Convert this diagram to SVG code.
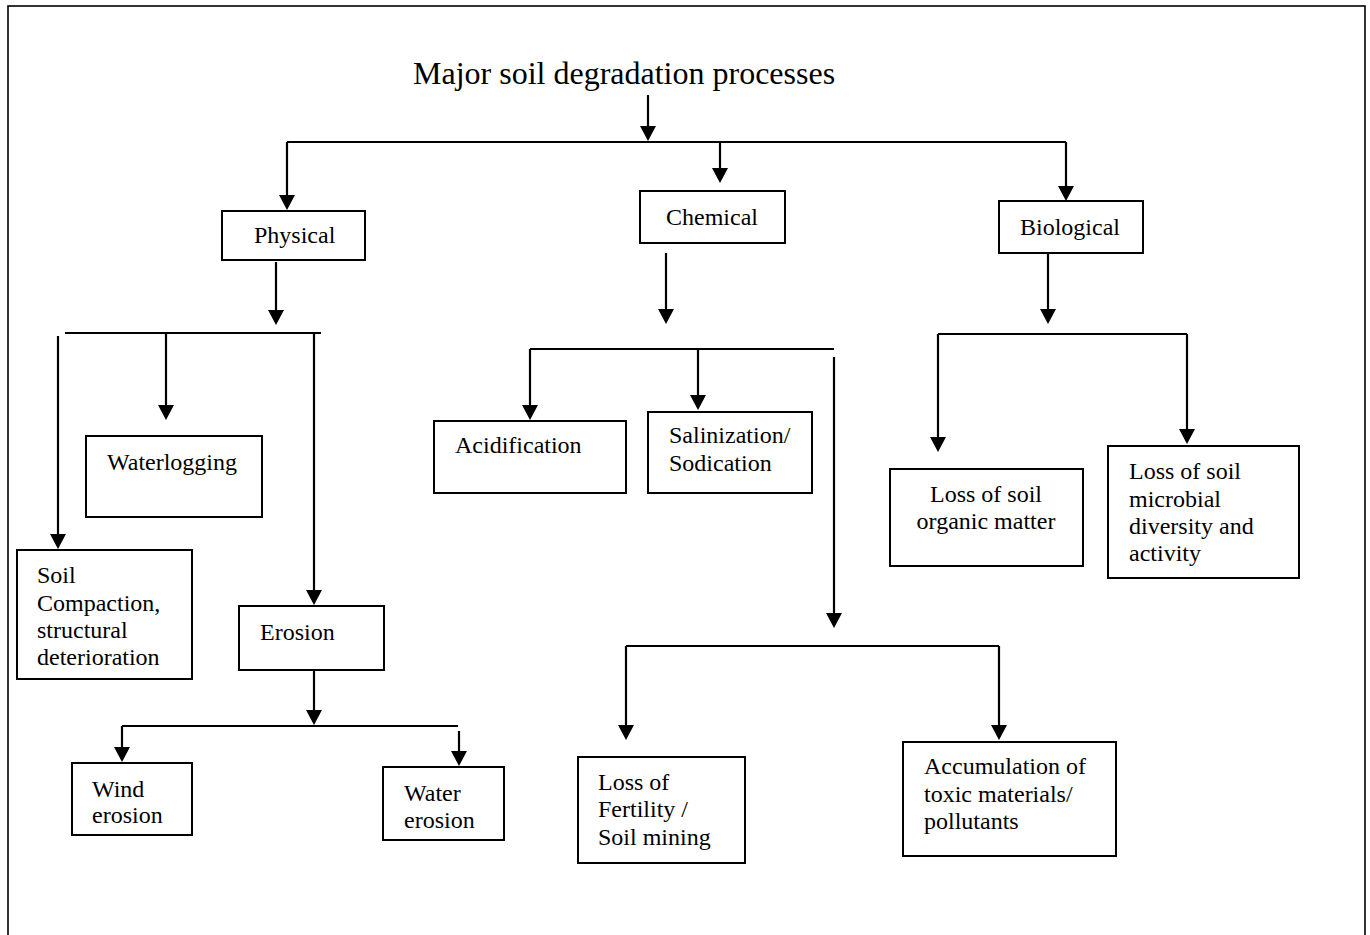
<svg xmlns="http://www.w3.org/2000/svg" width="1370" height="935" viewBox="0 0 1370 935">
<style>
.box{fill:#fff;stroke:#000;stroke-width:2}
.t{font-family:"Liberation Serif","Times New Roman",serif;font-size:24px;fill:#000}
.title{font-family:"Liberation Serif","Times New Roman",serif;font-size:32px;fill:#000}
.ln{fill:none;stroke:#000;stroke-width:2.2}
.ar{fill:none;stroke:#000;stroke-width:2.2;marker-end:url(#ah)}
</style>
<defs>
<marker id="ah" viewBox="0 0 15 16" markerWidth="15" markerHeight="16" markerUnits="userSpaceOnUse" refX="9" refY="8" orient="auto">
<path d="M0,0 L15,8 L0,16 z" fill="#000"/>
</marker>
</defs>
<rect width="1370" height="935" fill="#fff"/>
<rect x="8" y="6" width="1357" height="1000" fill="none" stroke="#000" stroke-width="1.6"/>
<g id="title"><text class="title" x="413" y="84">Major soil degradation processes</text></g>
<g id="connectors">
<path class="ar" d="M648,95 V135"/>
<path class="ln" d="M287,142 H1066"/>
<path class="ar" d="M287,142 V204"/>
<path class="ar" d="M720,142 V177"/>
<path class="ar" d="M1066,142 V195"/>
<path class="ar" d="M276,262 V319"/>
<path class="ln" d="M65,333 H321"/>
<path class="ar" d="M58,336 V543"/>
<path class="ar" d="M166,333 V414"/>
<path class="ar" d="M314,333 V599"/>
<path class="ar" d="M314,663 V719"/>
<path class="ln" d="M122,726 H458"/>
<path class="ar" d="M122,726 V756"/>
<path class="ar" d="M459,731 V760"/>
<path class="ar" d="M666,253 V318"/>
<path class="ln" d="M530,349 H834"/>
<path class="ar" d="M530,349 V414"/>
<path class="ar" d="M698,349 V404"/>
<path class="ar" d="M834,357 V622"/>
<path class="ln" d="M626,646 H999"/>
<path class="ar" d="M626,646 V734"/>
<path class="ar" d="M999,646 V734"/>
<path class="ar" d="M1048,253 V318"/>
<path class="ln" d="M938,334 H1187"/>
<path class="ar" d="M938,334 V446"/>
<path class="ar" d="M1187,334 V438"/>
</g>
<g id="physical"><rect class="box" x="222" y="211" width="143" height="49"/><text class="t" x="254" y="243">Physical</text></g>
<g id="chemical"><rect class="box" x="640" y="191" width="145" height="52"/><text class="t" x="666" y="225">Chemical</text></g>
<g id="biological"><rect class="box" x="999" y="201" width="144" height="52"/><text class="t" x="1020" y="235">Biological</text></g>
<g id="waterlogging"><rect class="box" x="86" y="436" width="176" height="81"/><text class="t" x="107" y="470">Waterlogging</text></g>
<g id="compaction"><rect class="box" x="17" y="550" width="175" height="129"/><text class="t"><tspan x="37" y="583">Soil</tspan><tspan x="37" y="611">Compaction,</tspan><tspan x="37" y="638">structural</tspan><tspan x="37" y="665">deterioration</tspan></text></g>
<g id="erosion"><rect class="box" x="239" y="606" width="145" height="64"/><text class="t" x="260" y="640">Erosion</text></g>
<g id="wind"><rect class="box" x="72" y="763" width="120" height="72"/><text class="t"><tspan x="92" y="797">Wind</tspan><tspan x="92" y="823">erosion</tspan></text></g>
<g id="water"><rect class="box" x="383" y="767" width="121" height="73"/><text class="t"><tspan x="404" y="801">Water</tspan><tspan x="404" y="828">erosion</tspan></text></g>
<g id="acidification"><rect class="box" x="434" y="421" width="192" height="72"/><text class="t" x="455" y="453">Acidification</text></g>
<g id="salinization"><rect class="box" x="648" y="412" width="164" height="81"/><text class="t"><tspan x="669" y="443">Salinization/</tspan><tspan x="669" y="471">Sodication</tspan></text></g>
<g id="fertility"><rect class="box" x="578" y="757" width="167" height="106"/><text class="t"><tspan x="598" y="790">Loss of</tspan><tspan x="598" y="817">Fertility /</tspan><tspan x="598" y="845">Soil mining</tspan></text></g>
<g id="toxic"><rect class="box" x="903" y="742" width="213" height="114"/><text class="t"><tspan x="924" y="774">Accumulation of</tspan><tspan x="924" y="802">toxic materials/</tspan><tspan x="924" y="829">pollutants</tspan></text></g>
<g id="organic"><rect class="box" x="890" y="469" width="193" height="97"/><text class="t" text-anchor="middle"><tspan x="986" y="502">Loss of soil</tspan><tspan x="986" y="529">organic matter</tspan></text></g>
<g id="microbial"><rect class="box" x="1108" y="446" width="191" height="132"/><text class="t"><tspan x="1129" y="479">Loss of soil</tspan><tspan x="1129" y="507">microbial</tspan><tspan x="1129" y="534">diversity and</tspan><tspan x="1129" y="561">activity</tspan></text></g>
</svg>
